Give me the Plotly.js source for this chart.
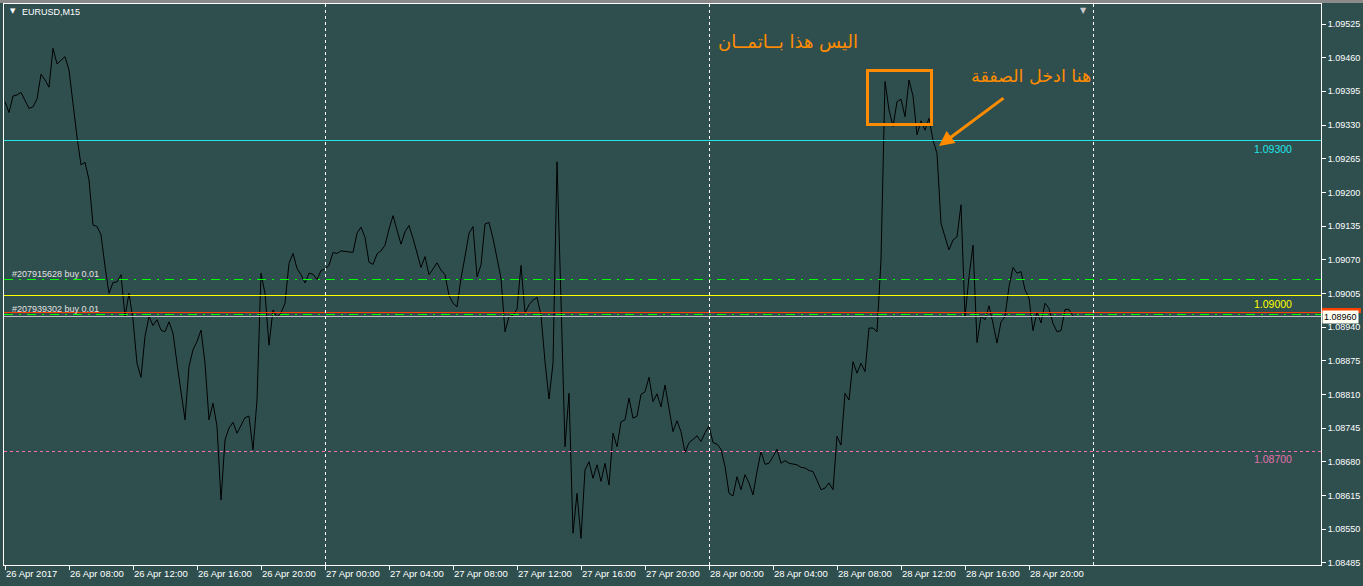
<!DOCTYPE html>
<html>
<head>
<meta charset="utf-8">
<script src="https://cdn.plot.ly/plotly-3.0.1.min.js"></script>
<style>html,body{margin:0;padding:0;background:#2F4F4F;}#chart{width:1363px;height:586px;}
.shapelayer path{shape-rendering:crispEdges;}</style>
</head>
<body>
<div id="chart"></div>
<script>
// ---- data ----
const symbolTitle = 'EURUSD,M15';
const seriesStart = '2017-04-26 04:00';   // first M15 bar
const barMinutes = 15;
const closes = [
1.09375,1.09354,1.09386,1.09388,1.09393,1.09378,1.09362,1.09365,1.09380,1.09428,
1.09417,1.09403,1.09478,1.09448,1.09456,1.09462,1.09436,1.09365,1.09307,1.09253,
1.09258,1.09224,1.09137,1.09134,1.09118,1.09057,1.09005,1.09026,1.09027,1.09041,
1.08960,1.09005,1.08954,1.08870,1.08843,1.08922,1.08960,1.08943,1.08954,1.08934,
1.08931,1.08950,1.08928,1.08870,1.08819,1.08761,1.08864,1.08896,1.08912,1.08934,
1.08870,1.08761,1.08793,1.08748,1.08606,1.08722,1.08745,1.08756,1.08735,1.08751,
1.08765,1.08768,1.08703,1.08799,1.09044,1.09005,1.08905,1.08973,1.08959,1.08967,
1.08986,1.09063,1.09082,1.09053,1.09041,1.09025,1.09044,1.09042,1.09032,1.09049,
1.09052,1.09059,1.09084,1.09082,1.09087,1.09086,1.09085,1.09084,1.09121,1.09133,
1.09113,1.09065,1.09061,1.09081,1.09087,1.09098,1.09129,1.09155,1.09127,1.09100,
1.09124,1.09136,1.09111,1.09084,1.09055,1.09076,1.09041,1.09052,1.09064,1.09050,
1.09041,1.09001,1.08986,1.08979,1.09034,1.09076,1.09121,1.09134,1.09037,1.09060,
1.09139,1.09142,1.09111,1.09073,1.09034,1.08931,1.08960,1.08963,1.08974,1.09059,
1.08967,1.08983,1.08992,1.08997,1.08963,1.08873,1.08801,1.08870,1.09259,1.08992,
1.08709,1.08812,1.08542,1.08619,1.08532,1.08664,1.08680,1.08648,1.08674,1.08642,
1.08677,1.08635,1.08735,1.08709,1.08757,1.08761,1.08803,1.08764,1.08768,1.08810,
1.08815,1.08843,1.08796,1.08811,1.08786,1.08828,1.08786,1.08738,1.08759,1.08738,
1.08698,1.08717,1.08723,1.08730,1.08719,1.08736,1.08749,1.08717,1.08714,1.08704,
1.08671,1.08619,1.08614,1.08651,1.08626,1.08655,1.08639,1.08616,1.08661,1.08700,
1.08675,1.08677,1.08690,1.08704,1.08677,1.08682,1.08677,1.08675,1.08674,1.08669,
1.08668,1.08663,1.08661,1.08644,1.08626,1.08629,1.08639,1.08626,1.08729,1.08712,
1.08812,1.08799,1.08873,1.08851,1.08870,1.08854,1.08938,1.08938,1.08931,1.09070,
1.09414,1.09359,1.09327,1.09375,1.09380,1.09346,1.09417,1.09386,1.09311,1.09338,
1.09320,1.09343,1.09301,1.09275,1.09140,1.09114,1.09089,1.09108,1.09114,1.09176,
1.08960,1.09037,1.09098,1.08910,1.08961,1.08954,1.08981,1.08947,1.08909,1.08950,
1.08960,1.09018,1.09055,1.09044,1.09047,1.09012,1.08996,1.08933,1.08969,1.08948,
1.08986,1.08976,1.08947,1.08931,1.08933,1.08974,1.08974,1.08960
];
const xTickTimes = ['2017-04-26 04:00','2017-04-26 08:00','2017-04-26 12:00','2017-04-26 16:00','2017-04-26 20:00',
  '2017-04-27 00:00','2017-04-27 04:00','2017-04-27 08:00','2017-04-27 12:00','2017-04-27 16:00','2017-04-27 20:00',
  '2017-04-28 00:00','2017-04-28 04:00','2017-04-28 08:00','2017-04-28 12:00','2017-04-28 16:00','2017-04-28 20:00'];
const xTickLabels = ['26 Apr 2017','26 Apr 08:00','26 Apr 12:00','26 Apr 16:00','26 Apr 20:00',
  '27 Apr 00:00','27 Apr 04:00','27 Apr 08:00','27 Apr 12:00','27 Apr 16:00','27 Apr 20:00',
  '28 Apr 00:00','28 Apr 04:00','28 Apr 08:00','28 Apr 12:00','28 Apr 16:00','28 Apr 20:00'];
const yTickVals = [1.08485,1.08550,1.08615,1.08680,1.08745,1.08810,1.08875,1.08940,1.09005,
  1.09070,1.09135,1.09200,1.09265,1.09330,1.09395,1.09460,1.09525];
const daySeparators = ['2017-04-27 00:00','2017-04-28 00:00','2017-04-29 00:00'];
const levelPrices = [1.09300, 1.09000, 1.08700];
const levelLabels = ['1.09300','1.09000','1.08700'];
const orderPrices = [1.09032, 1.08965];
const orderLabels = ['#207915628 buy 0.01','#207939302 buy 0.01'];
const bidPrice = 1.08960;
const askPrice = 1.08968;
const noteTitle = 'اليس هذا بــاتمــان';
const noteEntry = 'هنا ادخل الصفقة';

// ---- build ----
const t0 = Date.UTC(2017,3,26,4,0);
function barTime(k){
  const d = new Date(t0 + k*barMinutes*60000);
  return d.toISOString().slice(0,19).replace('T',' ');
}
const times = closes.map((_,i)=>barTime(i));

const BG = '#2F4F4F';
const levelColors = ['#22E6E6','#FFFF00','#FF6EB4'];
const levelLabelColors = ['#22E6E6','#FFFF00','#E070A8'];
const levelDash = ['solid','solid','3px,3px'];
const PX = (px)=> (px-4)/1317;      // pixel -> paper x
const PY = (py)=> (565-py)/561;     // pixel -> paper y

const shapes = [];
levelPrices.forEach((p,i)=>shapes.push({type:'line',xref:'paper',yref:'y',x0:0,x1:1,y0:p,y1:p,
  line:{color:levelColors[i],width:1,dash:levelDash[i]}}));
orderPrices.forEach(p=>shapes.push({type:'line',xref:'paper',yref:'y',x0:0,x1:1,y0:p,y1:p,
  line:{color:'#00FF00',width:1,dash:'9px,6px,2px,6px'}}));
shapes.push({type:'line',xref:'paper',yref:'y',x0:0,x1:1,y0:bidPrice,y1:bidPrice,line:{color:'#C0C0C0',width:1}});
shapes.push({type:'line',xref:'paper',yref:'y',x0:0,x1:1,y0:askPrice,y1:askPrice,line:{color:'#FF4000',width:1.5}});
daySeparators.forEach(d=>shapes.push({type:'line',xref:'x',yref:'paper',x0:d,x1:d,y0:0,y1:1,
  line:{color:'#FFFFFF',width:1,dash:'3px,3px'}}));
shapes.push({type:'rect',xref:'paper',yref:'paper',x0:PX(867.2),x1:PX(931.8),y0:PY(124.5),y1:PY(70.5),
  line:{color:'#FF8C00',width:3}});
shapes.push({type:'rect',xref:'paper',yref:'paper',x0:-0.01,x1:1.04,y0:PY(2.5),y1:PY(-2),
  line:{width:0},fillcolor:'#8A8A8A'});
// ask price box on the price scale (mostly hidden behind the bid box)
shapes.push({type:'rect',xref:'paper',yref:'paper',x0:PX(1322),x1:PX(1361),y0:PY(312.5),y1:PY(307.5),
  line:{width:0},fillcolor:'#FF4000'});

const annotations = [];
annotations.push({xref:'paper',yref:'paper',x:PX(8),y:PY(11),xanchor:'left',yanchor:'middle',showarrow:false,
  text:'▼',font:{family:'DejaVu Sans',size:7,color:'#FFFFFF'}});
annotations.push({xref:'paper',yref:'paper',x:PX(20),y:PY(11.5),xanchor:'left',yanchor:'middle',showarrow:false,
  text:symbolTitle,font:{family:'Liberation Sans',size:9,color:'#FFFFFF'}});
annotations.push({xref:'paper',yref:'paper',x:PX(1083),y:PY(4),xanchor:'center',yanchor:'top',showarrow:false,
  text:'▼',font:{family:'DejaVu Sans',size:8,color:'#C8C8C8'}});
levelPrices.forEach((p,i)=>annotations.push({xref:'paper',yref:'y',x:PX(1294),y:p,xanchor:'right',yanchor:'top',
  showarrow:false,text:levelLabels[i],font:{family:'Liberation Sans',size:10.5,color:levelLabelColors[i]}}));
orderPrices.forEach((p,i)=>annotations.push({xref:'paper',yref:'y',x:PX(10),y:p,xanchor:'left',yanchor:'bottom',
  yshift:-2,showarrow:false,text:orderLabels[i],font:{family:'Liberation Sans',size:9,color:'#E0E0E0'}}));
annotations.push({xref:'paper',yref:'y',x:PX(1322),y:bidPrice,xanchor:'left',yanchor:'middle',showarrow:false,
  text:bidPrice.toFixed(5),bgcolor:'#FFFFF4',borderpad:1,font:{family:'Liberation Sans',size:9,color:'#000000'}});
annotations.push({xref:'paper',yref:'paper',x:PX(787.5),y:PY(41.5),xanchor:'center',yanchor:'middle',showarrow:false,
  text:noteTitle,font:{family:'DejaVu Sans',size:18,color:'#FF8C00'}});
annotations.push({xref:'paper',yref:'paper',x:PX(1031),y:PY(76),xanchor:'center',yanchor:'middle',showarrow:false,
  text:noteEntry,font:{family:'DejaVu Sans',size:17.5,color:'#FF8C00'}});
annotations.push({xref:'paper',yref:'paper',x:PX(939),y:PY(146),ax:66,ay:-49,showarrow:true,text:'',
  arrowhead:2,arrowsize:1,arrowwidth:3,arrowcolor:'#FF8C00'});

const trace = {type:'scatter',mode:'lines',x:times,y:closes,line:{color:'#000000',width:1},hoverinfo:'skip'};

const layout = {
  width:1363,height:586,
  margin:{l:4,r:42,t:4,b:21,pad:0},
  paper_bgcolor:BG,plot_bgcolor:BG,
  showlegend:false,
  xaxis:{type:'date',range:[barTime(-0.25),barTime(329)],showgrid:false,zeroline:false,
    showline:true,mirror:true,linecolor:'#FFFFFF',linewidth:1,
    ticks:'outside',ticklen:4,tickcolor:'#FFFFFF',tickvals:xTickTimes,ticktext:xTickLabels,
    ticklabelposition:'outside right',tickfont:{family:'Liberation Sans',size:9.5,color:'#FFFFFF'}},
  yaxis:{side:'right',range:[1.084806,1.095636],showgrid:false,zeroline:false,
    showline:true,mirror:true,linecolor:'#FFFFFF',linewidth:1,
    ticks:'outside',ticklen:4,tickcolor:'#FFFFFF',tickvals:yTickVals,tickformat:'.5f',
    tickfont:{family:'Liberation Sans',size:9,color:'#FFFFFF'}},
  shapes:shapes,
  annotations:annotations
};
Plotly.newPlot('chart',[trace],layout,{staticPlot:true,displayModeBar:false});
</script>
</body>
</html>
